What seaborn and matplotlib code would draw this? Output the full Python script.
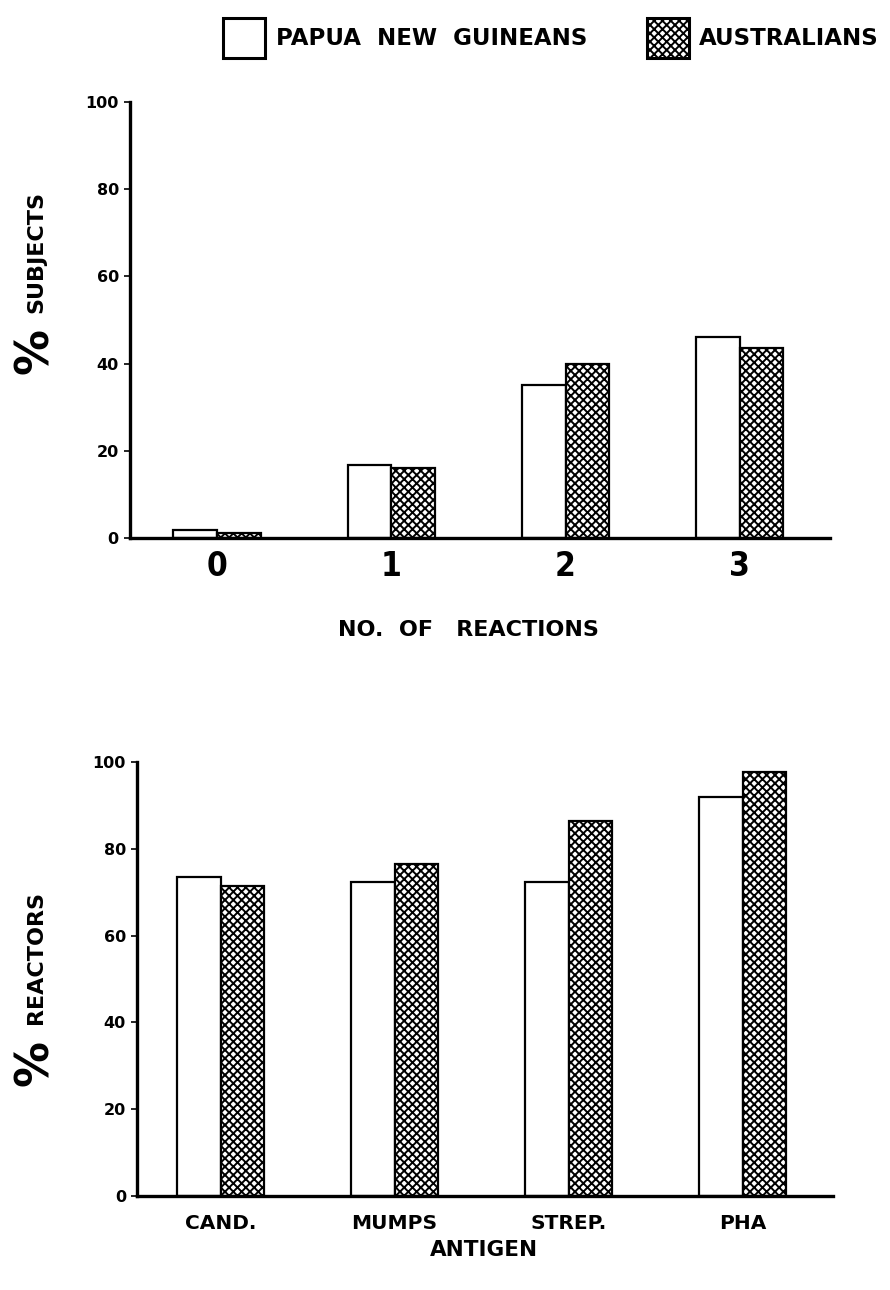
import matplotlib
matplotlib.use("Agg")
import matplotlib.pyplot as plt
import seaborn as sns
import pandas as pd
from matplotlib.patches import Patch

groups = ["PAPUA  NEW  GUINEANS", "AUSTRALIANS"]

reactions = ["0", "1", "2", "3"]
png_subjects = [1.8, 16.8, 35, 46]
aus_subjects = [1.2, 16, 40, 43.5]

antigens = ["CAND.", "MUMPS", "STREP.", "PHA"]
png_reactors = [73.5, 72.5, 72.5, 92]
aus_reactors = [71.5, 76.5, 86.5, 97.8]

yticks = [0, 20, 40, 60, 80, 100]

sns.set_theme(style="white")
plt.rcParams['font.family'] = ['DejaVu Sans']
plt.rcParams['font.weight'] = 'bold'
plt.rcParams['hatch.linewidth'] = 1.4
plt.rcParams['text.color'] = 'black'
plt.rcParams['xtick.color'] = 'black'
plt.rcParams['ytick.color'] = 'black'

df_top = pd.DataFrame({
    "cat": reactions * 2,
    "val": png_subjects + aus_subjects,
    "grp": [groups[0]] * 4 + [groups[1]] * 4,
})
df_bot = pd.DataFrame({
    "cat": antigens * 2,
    "val": png_reactors + aus_reactors,
    "grp": [groups[0]] * 4 + [groups[1]] * 4,
})

fig = plt.figure(figsize=(8.9, 12.9), dpi=100)
ax1 = fig.add_axes([0.146, 0.583, 0.787, 0.338])
ax2 = fig.add_axes([0.154, 0.073, 0.782, 0.336])

HATCH = "xxxx"
pal = {groups[0]: "white", groups[1]: "white"}
for ax, df in [(ax1, df_top), (ax2, df_bot)]:
    sns.barplot(data=df, x="cat", y="val", hue="grp", palette=pal, width=0.5,
                edgecolor="black", linewidth=1.6, ax=ax, legend=False,
                saturation=1)
    for bar in ax.containers[1]:
        bar.set_hatch(HATCH)
    ax.set_ylim(0, 100)
    ax.set_yticks(yticks)
    ax.set_yticklabels([str(t) for t in yticks], fontsize=11.5, fontweight='bold', color='black')
    for s in ["top", "right"]:
        ax.spines[s].set_visible(False)
    for s in ["left", "bottom"]:
        ax.spines[s].set_linewidth(2.4)
        ax.spines[s].set_color("black")
    ax.tick_params(axis='y', direction='out', length=4, width=1.2, left=True, pad=4, colors='black')
    ax.tick_params(axis='x', length=0, colors='black')
    ax.set_xlabel("")
    ax.set_ylabel("")

ax1.set_xlim(-0.5, 3.52)
ax2.set_xlim(-0.48, 3.52)
ax1.set_xticks(range(4))
ax1.set_xticklabels(reactions, fontsize=24, fontweight='heavy', fontstretch='condensed')
ax1.tick_params(axis='x', pad=9)
ax2.set_xticks(range(4))
ax2.set_xticklabels(antigens, fontsize=14.5, fontweight='bold')
ax2.tick_params(axis='x', pad=13)

fig.text(468 / 890, 1 - 630 / 1290, "NO.  OF   REACTIONS", ha='center', va='center', fontsize=16, fontweight='bold')
fig.text(484 / 890, 1 - 1250 / 1290, "ANTIGEN", ha='center', va='center', fontsize=15.5, fontweight='bold')

fig.text(36 / 890, 1 - 351 / 1290, "%", rotation=90, ha='center', va='center', fontsize=33, fontweight='bold')
fig.text(36 / 890, 1 - 252 / 1290, "SUBJECTS", rotation=90, ha='center', va='center', fontsize=16, fontweight='bold')
fig.text(36 / 890, 1 - 1063 / 1290, "%", rotation=90, ha='center', va='center', fontsize=33, fontweight='bold')
fig.text(36 / 890, 1 - 958 / 1290, "REACTORS", rotation=90, ha='center', va='center', fontsize=16, fontweight='bold')

handles = [Patch(facecolor="white", edgecolor="black", linewidth=2.2),
           Patch(facecolor="white", edgecolor="black", linewidth=2.2, hatch=HATCH)]
fig.legend(handles, groups, loc='center', bbox_to_anchor=(551 / 890, 1 - 38 / 1290), ncol=2,
           frameon=False, handlelength=1.85, handleheight=2.3,
           handletextpad=0.45, columnspacing=2.6, prop={'weight': 'bold', 'size': 16.5})

fig.savefig("out.png", dpi=100)
